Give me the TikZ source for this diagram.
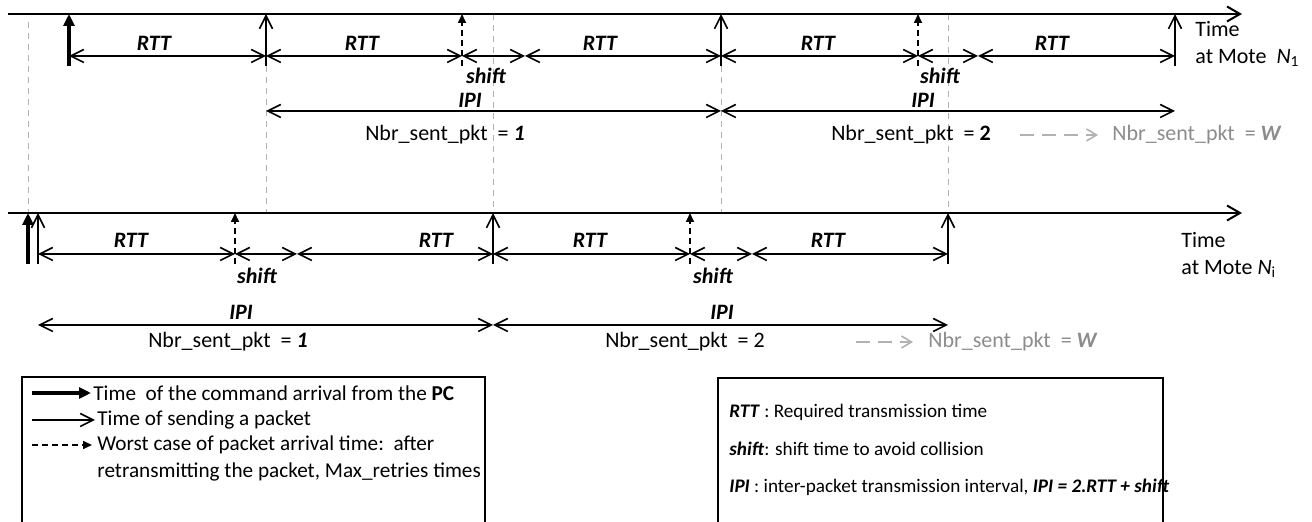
\documentclass[tikz,border=0pt]{standalone}
\usepackage{fontspec}
\setmainfont{Carlito}
\usetikzlibrary{arrows.meta}

\tikzset{
  axis/.style={line width=1pt,-{Straight Barb[length=6.5pt,width=7.5pt]}},
  span/.style={line width=0.8pt,{Straight Barb[length=6.5pt,width=6.5pt]}-{Straight Barb[length=6.5pt,width=6.5pt]}},
  cmdarrow/.style={line width=2pt,-{Triangle[length=6pt,width=5.5pt]}},
  sendarrow/.style={line width=0.8pt,-{Straight Barb[length=6.5pt,width=6.5pt]}},
  worstarrow/.style={line width=0.8pt,dash pattern=on 3pt off 2pt,-{Triangle[length=4.5pt,width=4pt]}},
  guide/.style={black!30,line width=0.5pt,dash pattern=on 3pt off 2.5pt},
  morearrow/.style={black!30,line width=0.8pt,dash pattern=on 7pt off 4pt,-{Straight Barb[length=5pt,width=6pt]}},
  lbl/.style={inner sep=0pt,font=\fontsize{11}{13.5}\selectfont\bfseries\itshape},
  txt/.style={inner sep=0pt,font=\fontsize{11}{13.5}\selectfont},
  greytxt/.style={txt,anchor=west,text=black!45},
  legtxt/.style={inner sep=0pt,anchor=west,align=left,font=\fontsize{10.6}{13.5}\selectfont},
  termtxt/.style={inner sep=0pt,anchor=west,font=\fontsize{9.6}{12}\selectfont},
}

\begin{document}
\begin{tikzpicture}[x=0.5pt,y=-0.5pt]
  \useasboundingbox (0,0) rectangle (1312,522);
  % Time axes
  \coordinate (topL) at (8,14);
  \coordinate (topR) at (1242,14);
  \coordinate (botL) at (8,213);
  \coordinate (botR) at (1242,213);
  % Events at mote N1
  \foreach \n/\x in {0/69,1/266,2/462,3/525,4/721,5/918,6/978,7/1175}{
    \coordinate (ta\n) at (\x,14);
    \coordinate (td\n) at (\x,56);
    \coordinate (tb\n) at (\x,66);
    \coordinate (ti\n) at (\x,111);
  }
  % Events at mote Ni
  \foreach \n/\x in {0/28,1/38,2/235,3/297,4/493,5/690,6/752,7/948}{
    \coordinate (ba\n) at (\x,213);
    \coordinate (bd\n) at (\x,254);
    \coordinate (bb\n) at (\x,264);
    \coordinate (bi\n) at (\x,325);
  }
  % Guides between the two motes
  \coordinate (g0) at (28,22);
  \draw[guide] (g0) -- (ba0);
  \draw[guide] (tb1) -- (tb1 |- botL);
  \draw[guide] (tb4) -- (tb4 |- botL);
  \draw[guide] (ba4 |- topL) -- (ba4);
  \draw[guide] (ba7 |- topL) -- (ba7);
  % Axes
  \draw[axis] (topL) -- (topR);
  \draw[axis] (botL) -- (botR);
  \node[txt,anchor=west,align=left] (timeA) at (1195,44) {Time\\at Mote\ \ \textit{N}\textsubscript{1}};
  \node[txt,anchor=west,align=left] (timeB) at (1181,255) {Time\\at Mote \textit{N}\textsubscript{i}};
  % Arrivals and sendings, mote N1
  \draw[cmdarrow] (tb0) -- (ta0);
  \foreach \n in {1,4,7} \draw[sendarrow] (tb\n) -- (ta\n);
  \foreach \n in {2,5} \draw[worstarrow] (tb\n) -- (ta\n);
  \foreach \i/\j in {0/1,1/2,2/3,3/4,4/5,5/6,6/7} \draw[span] (td\i) -- (td\j);
  \draw[span] (ti1) -- (ti4);
  \draw[span] (ti4) -- (ti7);
  \node[lbl] (rttA1) at (154,43) {RTT};
  \node[lbl] (rttA2) at (362,43) {RTT};
  \node[lbl] (rttA3) at (600,43) {RTT};
  \node[lbl] (rttA4) at (818,43) {RTT};
  \node[lbl] (rttA5) at (1052,43) {RTT};
  \node[lbl] (shiftA1) at (486,76) {shift};
  \node[lbl] (shiftA2) at (940,76) {shift};
  \node[lbl] (ipiA1) at (470,100) {IPI};
  \node[lbl] (ipiA2) at (923,100) {IPI};
  \node[txt] (nbrA1) at (445,135) {Nbr\_sent\_pkt\ \ = \textbf{\textit{1}}};
  \node[txt] (nbrA2) at (911,135) {Nbr\_sent\_pkt\ \ = \textbf{2}};
  \coordinate (moreA1) at (1020,135);
  \coordinate (moreA2) at (1098,135);
  \draw[morearrow] (moreA1) -- (moreA2);
  \node[greytxt] (nbrAW) at (1112,135) {Nbr\_sent\_pkt\ \ = \textbf{\textit{W}}};
  % Arrivals and sendings, mote Ni
  \draw[cmdarrow] (bb0) -- (ba0);
  \foreach \n in {1,4,7} \draw[sendarrow] (bb\n) -- (ba\n);
  \foreach \n in {2,5} \draw[worstarrow] (bb\n) -- (ba\n);
  \foreach \i/\j in {1/2,2/3,3/4,4/5,5/6,6/7} \draw[span] (bd\i) -- (bd\j);
  \draw[span] (bi1) -- (bi4);
  \draw[span] (bi4) -- (bi7);
  \node[lbl] (rttB1) at (131,240) {RTT};
  \node[lbl] (rttB2) at (436,240) {RTT};
  \node[lbl] (rttB3) at (590,240) {RTT};
  \node[lbl] (rttB4) at (828,240) {RTT};
  \node[lbl] (shiftB1) at (257,276) {shift};
  \node[lbl] (shiftB2) at (713,276) {shift};
  \node[lbl] (ipiB1) at (241,312) {IPI};
  \node[lbl] (ipiB2) at (722,312) {IPI};
  \node[txt] (nbrB1) at (228,342) {Nbr\_sent\_pkt\ \ = \textbf{\textit{1}}};
  \node[txt] (nbrB2) at (685,342) {Nbr\_sent\_pkt\ \ = 2};
  \coordinate (moreB1) at (856,342);
  \coordinate (moreB2) at (913,342);
  \draw[morearrow] (moreB1) -- (moreB2);
  \node[greytxt] (nbrBW) at (928,342) {Nbr\_sent\_pkt\ \ = \textbf{\textit{W}}};
  % Legend of the arrows
  \draw[line width=0.8pt] (22,530) -- (22,377) -- (485,377) -- (485,530);
  \coordinate (keyA1) at (32,393);
  \coordinate (keyA2) at (91,393);
  \coordinate (keyB1) at (32,420);
  \coordinate (keyB2) at (95,420);
  \coordinate (keyC1) at (32,445);
  \coordinate (keyC2) at (92,445);
  \draw[cmdarrow] (keyA1) -- (keyA2);
  \draw[sendarrow] (keyB1) -- (keyB2);
  \draw[worstarrow] (keyC1) -- (keyC2);
  \node[legtxt] (keyTextA) at (93,393) {Time\ \ of the command arrival from the \textbf{PC}};
  \node[legtxt] (keyTextB) at (97,420) {Time of sending a packet};
  \node[legtxt] (keyTextC) at (97,458.5) {Worst case of packet arrival time:\ \ after\\retransmitting the packet, Max\_retries times};
  % Legend of the terms
  \draw[line width=0.8pt] (718,530) -- (718,378) -- (1163,378) -- (1163,530);
  \node[termtxt] (termA) at (729,412) {\textbf{\textit{RTT}} : Required transmission time};
  \node[termtxt] (termB) at (729,449) {\textbf{\textit{shift}}: shift time to avoid collision};
  \node[termtxt] (termC) at (729,487) {\textbf{\textit{IPI}} : inter-packet transmission interval, \textbf{\textit{IPI = 2.RTT + shift}}};
\end{tikzpicture}
\end{document}
